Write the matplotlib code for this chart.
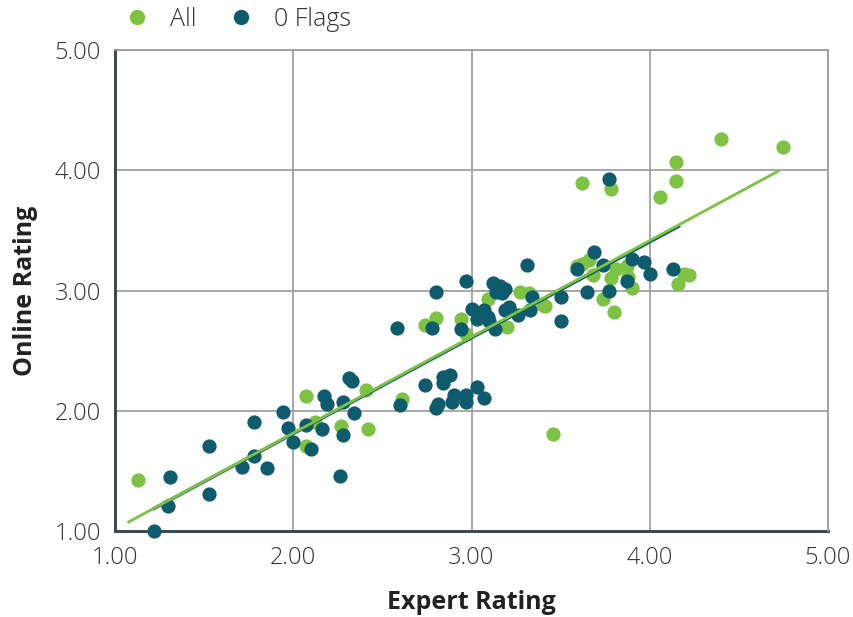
import matplotlib
matplotlib.use("Agg")
import matplotlib.pyplot as plt
from matplotlib.lines import Line2D

# "All" series (visible green points)
all_x = [1.13, 2.07, 2.07, 2.12, 2.27, 2.42, 2.41, 2.61, 2.74, 2.80, 2.94, 2.97,
         3.09, 3.20, 3.27, 3.32, 3.40, 3.41, 3.46, 3.59, 3.62, 3.62, 3.66, 3.68,
         3.74, 3.78, 3.78, 3.80, 3.81, 3.87, 3.88, 3.90, 4.06, 4.15, 4.15, 4.16,
         4.19, 4.22, 4.40, 4.75]
all_y = [1.42, 2.12, 1.71, 1.91, 1.87, 1.85, 2.17, 2.10, 2.71, 2.77, 2.76, 2.64,
         2.93, 2.70, 2.99, 2.98, 2.88, 2.87, 1.81, 3.20, 3.89, 3.22, 3.25, 3.13,
         2.93, 3.84, 3.10, 2.82, 3.18, 3.20, 3.11, 3.02, 3.78, 4.07, 3.91, 3.05,
         3.14, 3.13, 4.26, 4.19]

# "0 Flags" series (dark points)
flag_x = [1.22, 1.30, 1.31, 1.53, 1.53, 1.71, 1.78, 1.78, 1.85, 1.94, 1.97, 2.00,
          2.07, 2.10, 2.16, 2.17, 2.19, 2.26, 2.28, 2.28, 2.31, 2.33, 2.34, 2.58,
          2.60, 2.74, 2.78, 2.80, 2.81, 2.84, 2.84, 2.88, 2.89, 2.90, 2.94, 2.97,
          2.97, 2.97, 3.00, 3.03, 3.03, 3.07, 3.07, 3.09, 3.10, 3.12, 3.13, 3.14,
          3.16, 3.17, 3.19, 3.19, 3.21, 3.26, 3.31, 3.33, 3.34, 3.50, 3.50, 3.59,
          3.65, 3.69, 3.74, 3.77, 3.77, 3.87, 3.90, 3.97, 4.00, 4.13, 2.80]
flag_y = [1.00, 1.21, 1.45, 1.71, 1.31, 1.53, 1.91, 1.62, 1.52, 1.99, 1.86, 1.74,
          1.88, 1.68, 1.85, 2.12, 2.06, 1.46, 2.07, 1.80, 2.27, 2.25, 1.98, 2.69,
          2.05, 2.21, 2.69, 2.02, 2.06, 2.28, 2.23, 2.30, 2.07, 2.13, 2.68, 2.13,
          2.07, 3.08, 2.85, 2.76, 2.20, 2.84, 2.11, 2.78, 2.75, 3.06, 2.68, 2.99,
          3.04, 2.98, 3.01, 2.84, 2.86, 2.80, 3.21, 2.84, 2.95, 2.95, 2.75, 3.18,
          2.99, 3.32, 3.21, 3.00, 3.93, 3.08, 3.26, 3.24, 3.14, 3.18, 2.99]

# Trend lines (endpoints)
all_line_x = [1.07, 4.73]
all_line_y = [1.07, 4.00]
flag_line_x = [1.21, 4.17]
flag_line_y = [1.18, 3.54]

ticks = [1.0, 2.0, 3.0, 4.0, 5.0]
tick_labels = ["1.00", "2.00", "3.00", "4.00", "5.00"]
series_names = ["All", "0 Flags"]

GREEN = "#7DC242"
DARK = "#0E5B6D"
FONT = ["Open Sans", "DejaVu Sans"]

plt.rcParams["font.family"] = FONT

fig = plt.figure(figsize=(8.54, 6.17), dpi=100)
ax = fig.add_axes([115 / 854, 1 - 531 / 617, (828 - 115) / 854, (531 - 50) / 617])

ax.scatter(all_x, all_y, s=105, color=GREEN, linewidths=0, zorder=3, clip_on=False)
ax.scatter(flag_x, flag_y, s=105, color=DARK, linewidths=0, zorder=4, clip_on=False)
ax.plot(flag_line_x, flag_line_y, color=DARK, lw=2.4, zorder=5, solid_capstyle="butt")
ax.plot(all_line_x, all_line_y, color=GREEN, lw=2.0, zorder=6, solid_capstyle="butt")

ax.set_xlim(1, 5)
ax.set_ylim(1, 5)
ax.set_xticks(ticks)
ax.set_yticks(ticks)
ax.set_xticklabels(tick_labels, fontweight="light")
ax.set_yticklabels(tick_labels, fontweight="light")
ax.grid(True, color="#9a9a9a", lw=1.2, zorder=0)
ax.set_axisbelow(True)
ax.tick_params(length=0, labelsize=17, labelcolor="#333333")
ax.tick_params(axis="x", pad=11)
ax.tick_params(axis="y", pad=10)

for side in ["top", "right"]:
    ax.spines[side].set_color("#9a9a9a")
    ax.spines[side].set_linewidth(1.2)
for side in ["left", "bottom"]:
    ax.spines[side].set_color("#3E4A4F")
    ax.spines[side].set_linewidth(2.2)
    ax.spines[side].set_zorder(2)

ax.set_xlabel("Expert Rating", fontsize=18, fontweight="bold", color="#222222", labelpad=14)
ax.set_ylabel("Online Rating", fontsize=18, fontweight="bold", color="#222222", labelpad=12)

handles = [
    Line2D([], [], marker="o", ls="", color=GREEN, markersize=10),
    Line2D([], [], marker="o", ls="", color=DARK, markersize=10),
]
fig.legend(handles, series_names, loc="center left", bbox_to_anchor=(102 / 854, 1 - 19 / 617),
           ncol=2, frameon=False, handletextpad=0.8, columnspacing=1.3,
           handlelength=1.0, labelcolor="#333333", prop={"weight": "light", "size": 18})

fig.savefig("out.png", dpi=100)
